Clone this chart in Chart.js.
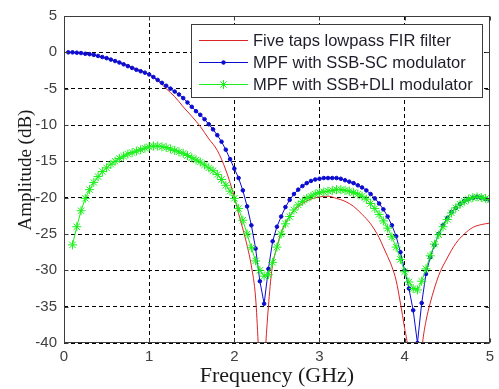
<!DOCTYPE html>
<html>
<head>
<meta charset="utf-8">
<script src="https://cdn.jsdelivr.net/npm/chart.js@4.4.1/dist/chart.umd.min.js"></script>
<style>
    html, body { margin: 0; padding: 0; background: #fff; }
    canvas { display: block; }
</style>
</head>
<body>
<canvas id="chart" width="499" height="389"></canvas>
<script>
// frequency grid (GHz) of the two measured MPF curves
const freq = [
    0.05, 0.10, 0.15, 0.20, 0.25, 0.30, 0.35, 0.40, 0.45, 0.50,
    0.55, 0.60, 0.65, 0.70, 0.75, 0.80, 0.85, 0.90, 0.95, 1.00,
    1.05, 1.10, 1.15, 1.20, 1.25, 1.30, 1.35, 1.40, 1.45, 1.50,
    1.55, 1.60, 1.65, 1.70, 1.75, 1.80, 1.85, 1.90, 1.95, 2.00,
    2.05, 2.10, 2.15, 2.20, 2.25, 2.30, 2.35, 2.40, 2.45, 2.50,
    2.55, 2.60, 2.65, 2.70, 2.75, 2.80, 2.85, 2.90, 2.95, 3.00,
    3.05, 3.10, 3.15, 3.20, 3.25, 3.30, 3.35, 3.40, 3.45, 3.50,
    3.55, 3.60, 3.65, 3.70, 3.75, 3.80, 3.85, 3.90, 3.95, 4.00,
    4.05, 4.10, 4.15, 4.20, 4.25, 4.30, 4.35, 4.40, 4.45, 4.50,
    4.55, 4.60, 4.65, 4.70, 4.75, 4.80, 4.85, 4.90, 4.95, 5.00
];

// MPF with SSB-SC modulator (dB)
const ssbScDb = [
    0.0, 0.0, -0.05, -0.1, -0.2, -0.25, -0.35, -0.5, -0.65, -0.8,
    -1.0, -1.2, -1.4, -1.65, -1.9, -2.15, -2.4, -2.6, -2.8, -3.05,
    -3.4, -3.8, -4.2, -4.6, -5.0, -5.4, -5.8, -6.3, -6.9, -7.5,
    -8.1, -8.6, -9.2, -9.9, -10.6, -11.4, -12.3, -13.4, -14.7, -16.0,
    -17.3, -19.0, -21.2, -23.8, -27.0, -31.5, -34.6, -29.8, -26.0, -24.0,
    -22.6, -21.3, -20.3, -19.5, -18.9, -18.4, -18.0, -17.7, -17.5, -17.4,
    -17.3, -17.3, -17.3, -17.3, -17.4, -17.6, -17.8, -18.0, -18.3, -18.6,
    -19.0, -19.5, -20.1, -20.8, -21.6, -22.6, -23.8, -25.3, -27.5, -30.0,
    -32.5, -35.5, -40.0, -34.5, -30.5, -28.2, -26.5, -25.0, -23.8, -22.8,
    -22.0, -21.4, -20.9, -20.5, -20.2, -20.0, -19.9, -20.0, -20.2, -20.4
];

// MPF with SSB+DLI modulator (dB)
const ssbDliDb = [
    null, -26.5, -24.0, -21.8, -20.1, -18.9, -17.9, -17.1, -16.4, -15.9,
    -15.4, -15.0, -14.6, -14.3, -14.0, -13.8, -13.6, -13.4, -13.2, -13.0,
    -12.9, -12.9, -13.0, -13.1, -13.3, -13.5, -13.7, -13.9, -14.2, -14.5,
    -14.8, -15.1, -15.5, -15.9, -16.3, -16.8, -17.5, -18.3, -19.1, -20.1,
    -21.5, -23.1, -25.0, -26.9, -28.7, -30.0, -30.8, -30.6, -28.9, -26.8,
    -25.0, -23.6, -22.6, -21.7, -21.0, -20.5, -20.1, -19.8, -19.5, -19.3,
    -19.2, -19.1, -19.0, -18.9, -18.9, -19.0, -19.1, -19.3, -19.5, -19.8,
    -20.2, -20.8, -21.5, -22.3, -23.2, -24.2, -25.4, -26.8, -28.5, -30.2,
    -31.6, -32.5, -32.7, -31.5, -29.8, -28.0, -26.4, -25.1, -24.0, -23.0,
    -22.1, -21.4, -20.9, -20.5, -20.2, -20.0, -19.9, -20.0, -20.1, -20.3
];

// five taps lowpass FIR filter
const firFreq = [
    0, 0.25, 0.5, 0.75, 1.0, 1.1, 1.2, 1.3, 1.4, 1.5, 1.6, 1.7, 1.8, 1.9, 2.0,
    2.05, 2.1, 2.15, 2.2, 2.25, 2.28, 2.32, 2.37, 2.4, 2.44, 2.5, 2.55, 2.6,
    2.7, 2.8, 2.9, 3.0, 3.1, 3.2, 3.3, 3.4, 3.5, 3.6, 3.7, 3.75, 3.8, 3.85,
    3.9, 3.95, 4.0, 4.03, 4.12, 4.21, 4.25, 4.3, 4.4, 4.5, 4.6, 4.7, 4.8, 4.9, 5.0
];
const firDb = [
    0, -0.2, -0.8, -1.8, -3.1, -3.9, -5.0, -6.1, -7.5, -8.8, -10.2, -11.9, -13.5, -16.2, -19.9,
    -22.2, -24.3, -26.6, -29.4, -33.8, -40, -50, -40, -35, -30, -26.8, -24.8, -23.5,
    -21.8, -20.8, -20.2, -19.9, -19.8, -20.1, -20.5, -21.2, -22.3, -23.6, -25.5, -26.8, -28.1, -29.5,
    -31.4, -34.5, -38, -40, -52, -40, -37, -34.5, -30.7, -28.3, -26.3, -25.0, -24.1, -23.7, -23.5
];

const seriesLabels = [
    'Five taps lowpass FIR filter',
    'MPF with SSB-SC modulator',
    'MPF with SSB+DLI modulator'
];
const xTicks = [0, 1, 2, 3, 4, 5];
const yTicks = [5, 0, -5, -10, -15, -20, -25, -30, -35, -40];

const pairs = (xs, ys) => xs.map((x, i) => ({x, y: ys[i]}));

// matlab style box: full frame, inward ticks, y label and a boxed legend
const matlabBox = {
    id: 'matlabBox',
    afterDraw(chart) {
        const {ctx, chartArea, scales} = chart;
        const left = Math.round(chartArea.left) + 0.5;
        const right = Math.round(chartArea.right) - 0.5;
        const top = Math.round(chartArea.top) + 0.5;
        const bottom = Math.round(chartArea.bottom) - 0.5;
        ctx.save();
        ctx.setLineDash([]);
        ctx.strokeStyle = '#3c3c3c';
        ctx.lineWidth = 1;
        ctx.beginPath();
        for (const v of xTicks) {
            const px = Math.round(scales.x.getPixelForValue(v)) + 0.5;
            ctx.moveTo(px, bottom); ctx.lineTo(px, bottom - 4);
            ctx.moveTo(px, top); ctx.lineTo(px, top + 4);
        }
        for (const v of yTicks) {
            const py = Math.round(scales.y.getPixelForValue(v)) + 0.5;
            ctx.moveTo(left, py); ctx.lineTo(left + 4, py);
            ctx.moveTo(right, py); ctx.lineTo(right - 4, py);
        }
        ctx.stroke();
        ctx.strokeRect(left, top, right - left, bottom - top);

        // y axis label, sits a little above the plot centre like the original
        ctx.save();
        ctx.translate(26, 170);
        ctx.rotate(-Math.PI / 2);
        ctx.fillStyle = '#1a1a1a';
        ctx.font = '19px "Liberation Serif", "Times New Roman", serif';
        ctx.textAlign = 'center';
        ctx.textBaseline = 'middle';
        ctx.fillText('Amplitude (dB)', 0, 0);
        ctx.restore();

        // legend
        const box = {x: 191.5, y: 24.5, w: 291, h: 73};
        ctx.fillStyle = '#fff';
        ctx.fillRect(box.x, box.y, box.w, box.h);
        ctx.strokeStyle = '#3c3c3c';
        ctx.strokeRect(box.x, box.y, box.w, box.h);
        ctx.font = '16.5px "Liberation Sans", Arial, sans-serif';
        ctx.textBaseline = 'middle';
        ctx.textAlign = 'left';
        chart.data.datasets.forEach((ds, i) => {
            const y = 40.5 + i * 22;
            ctx.strokeStyle = ds.borderColor;
            ctx.lineWidth = 1;
            ctx.beginPath();
            ctx.moveTo(199, y);
            ctx.lineTo(248, y);
            ctx.stroke();
            if (ds.pointRadius > 0) {
                ctx.fillStyle = ds.pointBackgroundColor;
                ctx.strokeStyle = ds.pointBorderColor;
                Chart.helpers.drawPoint(ctx, {
                    pointStyle: ds.pointStyle,
                    radius: ds.pointRadius,
                    rotation: 0,
                    borderWidth: ds.pointBorderWidth
                }, 223.5, y);
            }
            ctx.fillStyle = '#1e1e2a';
            ctx.fillText(ds.label, 253, y + 1);
        });
        ctx.restore();
    }
};

Chart.register(matlabBox);

const ctx = document.getElementById('chart').getContext('2d');

new Chart(ctx, {
    type: 'line',
    data: {
        datasets: [
            {
                label: seriesLabels[0],
                data: pairs(firFreq, firDb),
                borderColor: '#dc2424',
                borderWidth: 1,
                pointRadius: 0,
                cubicInterpolationMode: 'monotone',
                fill: false,
                order: 3
            },
            {
                label: seriesLabels[1],
                data: pairs(freq, ssbScDb),
                borderColor: '#0c0cd0',
                borderWidth: 1,
                pointStyle: 'circle',
                pointRadius: 1.8,
                pointBorderWidth: 1,
                pointBackgroundColor: '#0c0cd0',
                pointBorderColor: '#0c0cd0',
                tension: 0,
                fill: false,
                order: 2
            },
            {
                label: seriesLabels[2],
                data: pairs(freq, ssbDliDb),
                borderColor: '#18f018',
                borderWidth: 1,
                pointStyle: 'star',
                pointRadius: 4.5,
                pointBorderWidth: 1,
                pointBackgroundColor: '#18f018',
                pointBorderColor: '#18f018',
                tension: 0,
                spanGaps: false,
                fill: false,
                order: 1
            }
        ]
    },
    options: {
        responsive: false,
        animation: false,
        devicePixelRatio: 1,
        layout: {padding: {left: 0, right: 9, top: 15, bottom: 0}},
        plugins: {
            legend: {display: false},
            tooltip: {enabled: false}
        },
        scales: {
            x: {
                type: 'linear',
                min: 0,
                max: 5,
                afterFit: (scale) => { scale.height = 46; },
                afterBuildTicks: (scale) => { scale.ticks = xTicks.map(v => ({value: v})); },
                grid: {color: '#000', lineWidth: 1, drawTicks: false},
                border: {display: false, dash: [4, 3]},
                ticks: {
                    padding: 5,
                    color: '#404040',
                    font: {family: '"Liberation Sans", Arial, sans-serif', size: 15}
                },
                title: {
                    display: true,
                    text: 'Frequency (GHz)',
                    color: '#1a1a1a',
                    padding: {top: 0, bottom: 0},
                    font: {family: '"Liberation Serif", "Times New Roman", serif', size: 22}
                }
            },
            y: {
                type: 'linear',
                min: -40,
                max: 5,
                afterFit: (scale) => { scale.width = 64; },
                afterBuildTicks: (scale) => { scale.ticks = yTicks.map(v => ({value: v})); },
                grid: {color: '#000', lineWidth: 1, drawTicks: false},
                border: {display: false, dash: [4, 3]},
                ticks: {
                    padding: 7,
                    color: '#404040',
                    font: {family: '"Liberation Sans", Arial, sans-serif', size: 15}
                }
            }
        }
    }
});
</script>
</body>
</html>
